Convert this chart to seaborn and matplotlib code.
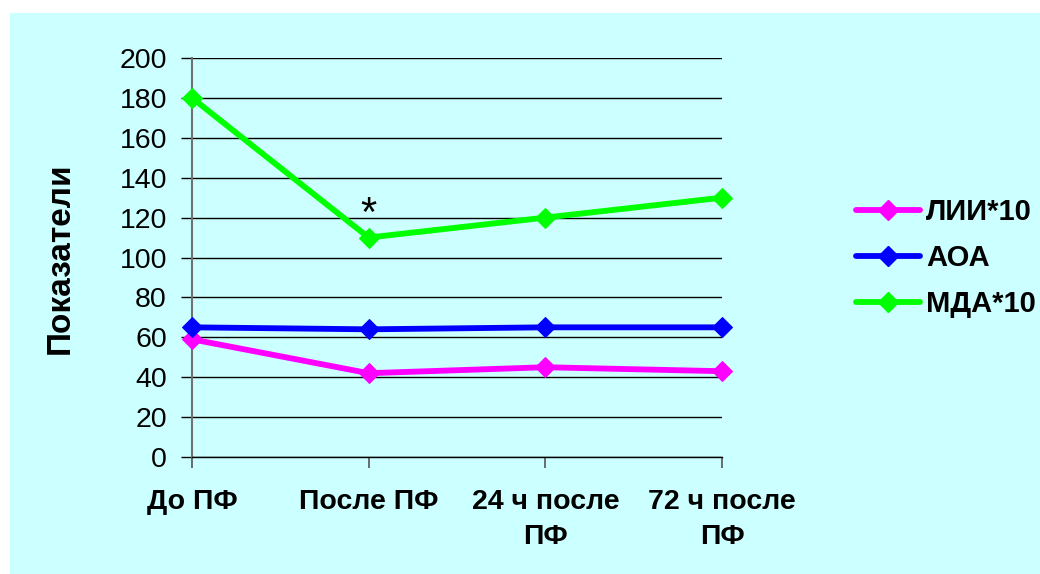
import matplotlib
matplotlib.use("Agg")
import matplotlib.pyplot as plt
from matplotlib.lines import Line2D
from matplotlib.patches import Rectangle
import seaborn as sns
import pandas as pd

# Stages of the observation and measured indicators
stages = ["До ПФ", "После ПФ", "24 ч после\nПФ", "72 ч после\nПФ"]
lii_x10 = [59, 42, 45, 43]
aoa = [65, 64, 65, 65]
mda_x10 = [180, 110, 120, 130]
series_names = ["ЛИИ*10", "АОА", "МДА*10"]
colors = ["#FF00FF", "#0000FF", "#00FF00"]
y_ticks = list(range(0, 201, 20))
y_label = "Показатели"
signif_mark = "*"

rows = []
for name, values in zip(series_names, [lii_x10, aoa, mda_x10]):
    for i, v in enumerate(values):
        rows.append({"pos": i, "value": v, "series": name})
df = pd.DataFrame(rows)

sns.set_theme(style="white")
plt.rcParams["font.family"] = ["Liberation Sans", "DejaVu Sans"]
plt.rcParams["text.color"] = "black"
plt.rcParams["xtick.color"] = "black"
plt.rcParams["ytick.color"] = "black"

BG = "#CCFFFF"
W, H = 1040, 574
LW, MS = 4.2, 10
fig = plt.figure(figsize=(W / 100, H / 100), dpi=100)
fig.patch.set_facecolor("white")
fig.patches.append(Rectangle((10 / W, 0), 1 - 10 / W, 1 - 13 / H,
                             transform=fig.transFigure, facecolor=BG,
                             edgecolor="none", zorder=-5))

ax = fig.add_axes([192 / W, 1 - 457 / H, 530 / W, 399 / H])
ax.set_facecolor(BG)

sns.lineplot(data=df, x="pos", y="value", hue="series", hue_order=series_names,
             palette=colors, marker="D", markersize=MS, linewidth=LW,
             errorbar=None, legend=False, ax=ax)
for line in ax.lines:
    line.set_markeredgecolor(line.get_color())
    line.set_clip_on(False)
    line.set_zorder(3)

ax.set_xlim(0, 3)
ax.set_ylim(0, 200)
ax.set_xticks(range(len(stages)))
ax.set_xticklabels(stages, fontweight="bold", fontsize=20.5, linespacing=1.45)
ax.set_yticks(y_ticks)
ax.set_yticklabels([str(t) for t in y_ticks], fontsize=20.5)
ax.set_xlabel("")
ax.set_ylabel("")

ax.yaxis.grid(True, color="black", linewidth=1)
ax.xaxis.grid(False)
ax.set_axisbelow(True)
ax.tick_params(axis="y", direction="out", length=8, width=1, color="black",
               pad=10, left=True)
ax.tick_params(axis="x", direction="out", length=8, width=1.2, color="#555555",
               pad=15, bottom=True)
for s in ["top", "right"]:
    ax.spines[s].set_visible(False)
ax.spines["left"].set_color("#707070")
ax.spines["left"].set_linewidth(1.5)
ax.spines["bottom"].set_color("black")
ax.spines["bottom"].set_linewidth(1)

ax.annotate(signif_mark, xy=(1, mda_x10[1]), xytext=(0, 2),
            textcoords="offset points", ha="center", va="bottom",
            fontsize=30)

fig.text(60 / W, 1 - 258 / H, y_label, rotation=90, ha="center", va="center",
         fontsize=24, fontweight="bold")

handles = [Line2D([0], [0], color=c, linewidth=LW, marker="D", markersize=MS,
                  markeredgecolor=c) for c in colors]
fig.legend(handles, series_names, loc="center left",
           bbox_to_anchor=(856 / W, 1 - 258 / H), frameon=False,
           prop={"size": 21, "weight": "bold"}, handlelength=2.2,
           handletextpad=0.2, labelspacing=0.62, borderpad=0, borderaxespad=0)

fig.savefig("out.png", dpi=100, facecolor=fig.get_facecolor())
